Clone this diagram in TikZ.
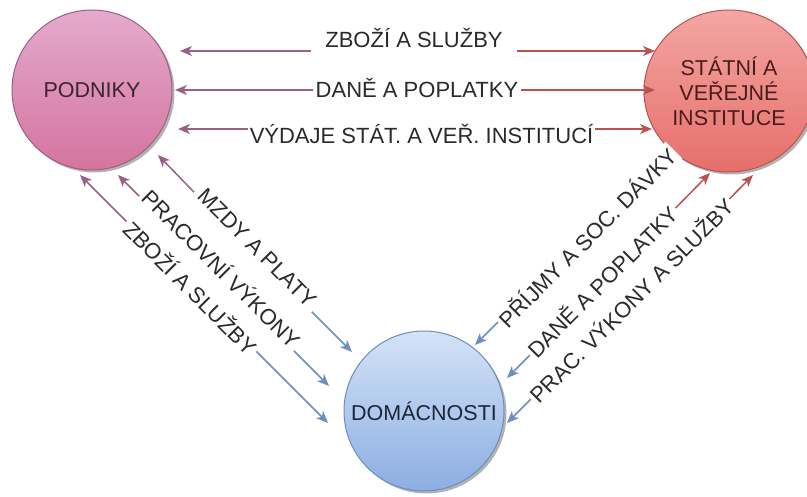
\documentclass[tikz,border=0pt]{standalone}
\usepackage{fontspec}
\setmainfont{Liberation Sans}
\usetikzlibrary{arrows.meta,shadows,shapes.geometric}
\definecolor{pstroke}{HTML}{996185}
\definecolor{sstroke}{HTML}{B85450}
\definecolor{dstroke}{HTML}{6C8EBF}
\definecolor{pfillT}{HTML}{E4AACC}
\definecolor{pfillB}{HTML}{D4749F}
\definecolor{sfillT}{HTML}{F3A6A4}
\definecolor{sfillB}{HTML}{E66F6A}
\definecolor{dfillT}{HTML}{D4E3F7}
\definecolor{dfillB}{HTML}{8CAEE2}
\definecolor{labtext}{HTML}{2A2A2A}
\definecolor{ptext}{HTML}{3A2432}
\definecolor{stext}{HTML}{4A1C1C}
\definecolor{dtext}{HTML}{1C2638}
\begin{document}
\begin{tikzpicture}[x=1pt,y=-1pt,
  bigfont/.style={font=\fontsize{21.5}{25}\selectfont},
  lblfont/.style={font=\fontsize{22}{26}\selectfont},
  lbl/.style={lblfont, text=labtext, fill=white, inner xsep=3pt, inner ysep=2pt},
  tipstyle/.style={-{Stealth[length=12pt,width=10pt,inset=3.5pt]}},
  parr/.style={draw=pstroke, line width=1.5pt, tipstyle},
  sarr/.style={draw=sstroke, line width=1.5pt, tipstyle},
  darr/.style={draw=dstroke, line width=1.5pt, tipstyle},
  shad/.style={drop shadow={shadow xshift=2.5pt, shadow yshift=-2.5pt, fill=black, opacity=0.3}},
]
\useasboundingbox (0,0) rectangle (807,497);

% main nodes
\node[circle, minimum size=160pt, draw=pstroke, line width=1pt, top color=pfillT, bottom color=pfillB, shad, bigfont, text=ptext] (P) at (92,90) {PODNIKY};
\node[ellipse, minimum width=148pt, minimum height=162pt, draw=sstroke, line width=1pt, top color=sfillT, bottom color=sfillB, shad, bigfont, text=stext, align=center] (S) at (729,91) {STÁTNÍ A\\VEŘEJNÉ\\INSTITUCE};
\node[circle, minimum size=160pt, draw=dstroke, line width=1pt, top color=dfillT, bottom color=dfillB, shad, bigfont, text=dtext] (D) at (424,411) {DOMÁCNOSTI};

% tips
\coordinate (p1) at (180,51);  \coordinate (s1) at (655,51);  \coordinate (m1) at (414,51);
\coordinate (p2) at (175,90);  \coordinate (s2) at (655,90);  \coordinate (m2) at (417,90);
\coordinate (p3) at (178,129); \coordinate (s3) at (652,129); \coordinate (m3) at (421,129);

\coordinate (pl1) at (158,155); \coordinate (dl1) at (352,352); \coordinate (ml1) at (252.5,252.5);
\coordinate (pl2) at (118,175); \coordinate (dl2) at (329,386); \coordinate (ml2) at (217.5,274.5);
\coordinate (pl3) at (80,175);  \coordinate (dl3) at (328,423); \coordinate (ml3) at (192.5,287.5);

\coordinate (dr1) at (475,345); \coordinate (sr1) at (672,148); \coordinate (mr1) at (585,235);
\coordinate (dr2) at (507,378); \coordinate (sr2) at (710,173); \coordinate (mr2) at (603,282);
\coordinate (dr3) at (507,423); \coordinate (sr3) at (753,175); \coordinate (mr3) at (630,300);

% horizontal connectors
\draw[parr] (m1) -- (p1); \draw[sarr] (m1) -- (s1);
\draw[parr] (m2) -- (p2); \draw[sarr] (m2) -- (s2);
\draw[parr] (m3) -- (p3); \draw[sarr] (m3) -- (s3);

% left diagonal connectors
\draw[parr] (ml1) -- (pl1); \draw[darr] (ml1) -- (dl1);
\draw[parr] (ml2) -- (pl2); \draw[darr] (ml2) -- (dl2);
\draw[parr] (ml3) -- (pl3); \draw[darr] (ml3) -- (dl3);

% right diagonal connectors
\draw[darr] (mr1) -- (dr1); \draw[sarr] (mr1) -- (sr1);
\draw[darr] (mr2) -- (dr2); \draw[sarr] (mr2) -- (sr2);
\draw[darr] (mr3) -- (dr3); \draw[sarr] (mr3) -- (sr3);

% labels
\node[lbl, anchor=base, inner xsep=14pt, inner ysep=5pt] (h1) at (414,47.5) {ZBOŽÍ A SLUŽBY};
\node[lbl, anchor=base, inner xsep=3pt] (h2) at (417,98) {DANĚ A POPLATKY};
\node[lbl, anchor=base, inner xsep=2pt] (h3) at (421.5,144) {VÝDAJE STÁT. A VEŘ. INSTITUCÍ};

\node[lbl, rotate=-45, inner xsep=5pt] (l1) at (257,248) {MZDY A PLATY};
\node[lbl, rotate=-45, inner xsep=3pt] (l2) at (222,268) {PRACOVNÍ VÝKONY};
\node[lbl, rotate=-45, inner xsep=3pt] (l3) at (191,287) {ZBOŽÍ A SLUŽBY};

\node[lbl, rotate=45, inner xsep=2pt] (r1) at (587,237) {PŘÍJMY A SOC. DÁVKY};
\node[lbl, rotate=45, inner xsep=2pt] (r2) at (602,281) {DANĚ A POPLATKY};
\node[lbl, rotate=45, inner xsep=2pt] (r3) at (631,300) {PRAC. VÝKONY A SLUŽBY};
\end{tikzpicture}
\end{document}
